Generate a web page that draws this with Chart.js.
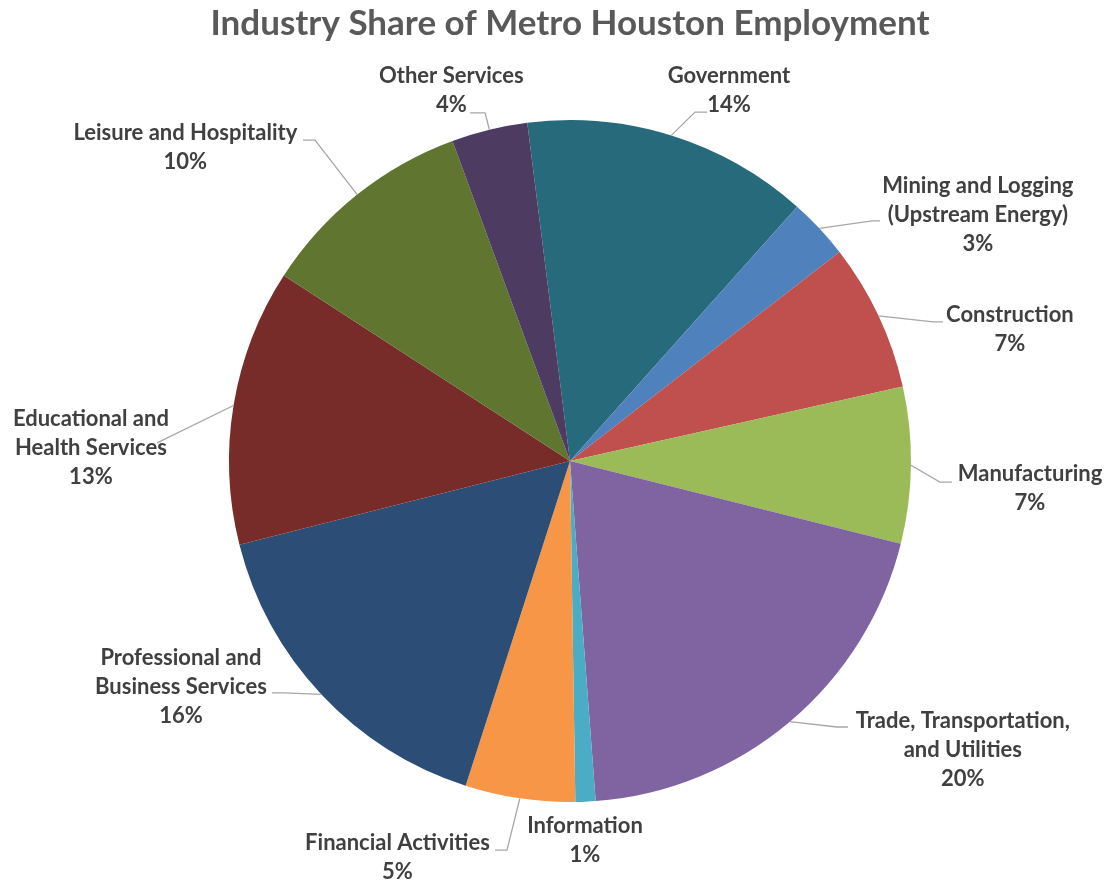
<!DOCTYPE html>
<html>
<head>
<meta charset="utf-8">
<title>Industry Share of Metro Houston Employment</title>
<script src="https://cdn.jsdelivr.net/npm/chart.js@4"></script>
<style>
  body { margin: 0; background: #fff; }
  #wrap { width: 1105px; height: 882px; }
</style>
</head>
<body>
<div id="wrap"><canvas id="myChart" width="1105" height="882"></canvas></div>
<script>
// industries, clockwise from the top
const industries = [
    'Government',
    ['Mining and Logging', '(Upstream Energy)'],
    'Construction',
    'Manufacturing',
    ['Trade, Transportation,', 'and Utilities'],
    'Information',
    'Financial Activities',
    ['Professional and', 'Business Services'],
    ['Educational and', 'Health Services'],
    'Leisure and Hospitality',
    'Other Services',
];

// share of employment, percent
const shares = [13.6, 2.9, 7.0, 7.4, 19.9, 0.95, 5.2, 16.1, 13.1, 10.25, 3.6];

const sliceColors = [
    '#276A7C', '#4F81BD', '#C0504D', '#9BBB59', '#8064A2', '#4BACC6',
    '#F79646', '#2C4D75', '#772C2A', '#5F7530', '#4D3B62',
];

// label block centre and leader end, in units of the pie radius from its centre
const labelAt = [
    [0.466, -1.088], [1.196, -0.721], [1.290, -0.386], [1.349, 0.081],
    [1.152, 0.848], [0.044, 1.113], [-0.506, 1.163], [-1.141, 0.663],
    [-1.405, -0.038], [-1.128, -0.919], [-0.348, -1.088],
];
const leaderEnd = [
    [0.402, -1.023], [0.909, -0.704], [1.094, -0.408], [1.120, 0.062],
    [0.815, 0.780], null, [-0.220, 1.141], [-0.874, 0.680],
    [-1.211, -0.053], [-0.783, -0.941], [-0.293, -1.021],
];
const leaderStub = [12, 8, 10, 12, 11, 0, 12, 12, 0, 12, 15];

const LABEL_FONT = 'bold 22px Lato';
const LINE_H = 29;

const outsideLabels = {
    id: 'outsideLabels',
    afterDatasetsDraw(chart) {
        const ctx = chart.ctx;
        const meta = chart.getDatasetMeta(0);
        const total = shares.reduce((a, b) => a + b, 0);
        ctx.save();
        meta.data.forEach((arc, i) => {
            const p = arc.getProps(['x', 'y', 'startAngle', 'endAngle', 'outerRadius'], true);
            const r = p.outerRadius;
            const mid = (p.startAngle + p.endAngle) / 2;

            // leader line: slice edge -> elbow -> short level stub
            if (leaderEnd[i]) {
                const ex = p.x + Math.cos(mid) * r;
                const ey = p.y + Math.sin(mid) * r;
                const tx = p.x + leaderEnd[i][0] * r;
                const ty = p.y + leaderEnd[i][1] * r;
                const dir = tx > p.x ? -1 : 1;
                ctx.strokeStyle = '#A6A6A6';
                ctx.lineWidth = 1.3;
                ctx.beginPath();
                ctx.moveTo(ex, ey);
                ctx.lineTo(tx + dir * leaderStub[i], ty);
                ctx.lineTo(tx, ty);
                ctx.stroke();
            }

            const name = Array.isArray(industries[i]) ? industries[i] : [industries[i]];
            const lines = name.concat([Math.round(shares[i] / total * 100) + '%']);
            const cx = p.x + labelAt[i][0] * r;
            const cy = p.y + labelAt[i][1] * r;
            ctx.font = LABEL_FONT;
            ctx.fillStyle = '#404040';
            ctx.textAlign = 'center';
            ctx.textBaseline = 'middle';
            lines.forEach((line, k) => {
                ctx.fillText(line, cx, cy + (k - (lines.length - 1) / 2) * LINE_H);
            });
        });
        ctx.restore();
    }
};

const ctx = document.getElementById('myChart').getContext('2d');
new Chart(ctx, {
    type: 'pie',
    data: {
        labels: industries,
        datasets: [{
            data: shares,
            backgroundColor: sliceColors,
            borderWidth: 0,
        }]
    },
    options: {
        responsive: false,
        animation: false,
        rotation: -7.2,
        layout: {
            padding: { left: 35, right: 0, top: 0, bottom: 80 }
        },
        plugins: {
            legend: { display: false },
            tooltip: { enabled: false },
            title: {
                display: true,
                text: 'Industry Share of Metro Houston Employment',
                color: '#595959',
                font: { family: 'Lato', size: 35, weight: 'bold', lineHeight: 1.2 },
                padding: { top: 3, bottom: 75 },
            },
        },
    },
    plugins: [outsideLabels],
});
</script>
</body>
</html>
